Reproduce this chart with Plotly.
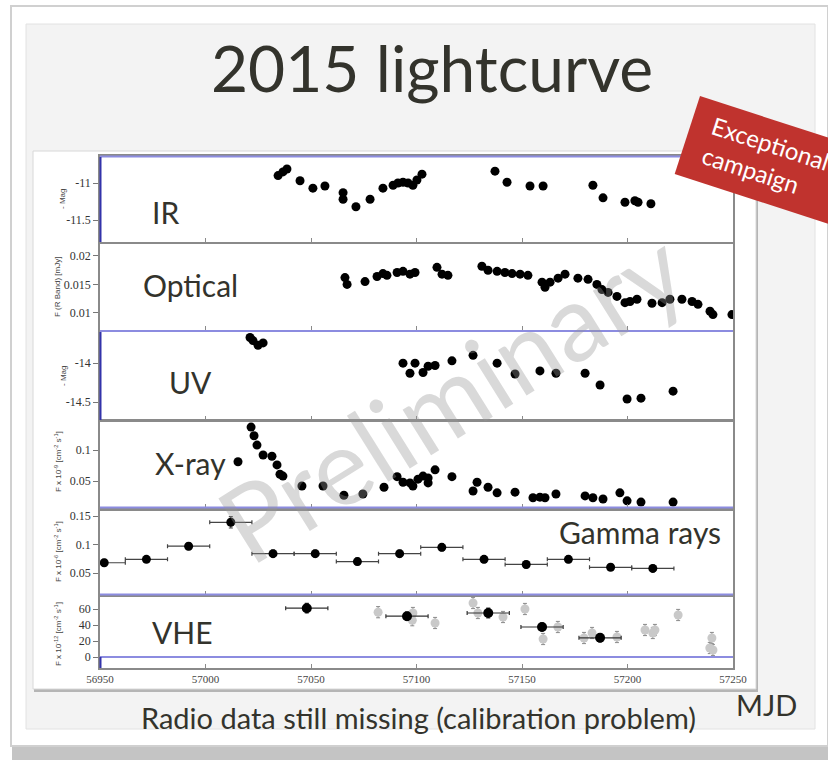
import plotly.graph_objects as go
import math

# ---------------- data ----------------
ir_mjd = [57034.4, 57036.7, 57038.6, 57044.8, 57050.9, 57056.6, 57065.2, 57065.2, 57071.3, 57078.0,
          57084.1, 57088.9, 57091.2, 57093.6, 57096.0, 57098.3, 57100.2, 57102.6, 57137.2, 57142.9,
          57153.8, 57160.0, 57183.6, 57188.4, 57198.8, 57203.5, 57205.0, 57211.1]
ir_mag = [-10.90, -10.85, -10.81, -10.97, -11.07, -11.04, -11.13, -11.22, -11.32, -11.22,
          -11.07, -11.03, -11.00, -10.99, -11.00, -11.03, -10.96, -10.88, -10.84, -10.99,
          -11.04, -11.04, -11.03, -11.20, -11.26, -11.24, -11.26, -11.28]

opt_mjd = [57066.1, 57067.1, 57075.6, 57081.3, 57084.1, 57086.0, 57090.8, 57093.6, 57096.9, 57099.3,
           57109.7, 57112.1, 57114.9, 57131.0, 57133.9, 57138.2, 57141.9, 57145.3, 57149.1, 57152.8,
           57159.5, 57160.9, 57163.3, 57167.1, 57170.4, 57176.5, 57181.3, 57185.5, 57187.9, 57190.8,
           57195.0, 57198.8, 57201.2, 57204.5, 57211.6, 57216.4, 57220.1, 57225.8, 57230.6, 57233.4,
           57239.1, 57240.5, 57249.5]
opt_flux = [0.0162, 0.0150, 0.0155, 0.0164, 0.0169, 0.0166, 0.0171, 0.0173, 0.0168, 0.0171,
            0.0180, 0.0168, 0.0166, 0.0182, 0.0175, 0.0173, 0.0171, 0.0169, 0.0168, 0.0166,
            0.0154, 0.0145, 0.0154, 0.0161, 0.0168, 0.0161, 0.0159, 0.0150, 0.0141, 0.0136,
            0.0129, 0.0118, 0.0120, 0.0124, 0.0117, 0.0118, 0.0124, 0.0124, 0.0120, 0.0115,
            0.0103, 0.0097, 0.0097]

uv_mjd = [57021.1, 57022.5, 57024.9, 57027.3, 57093.6, 57096.9, 57099.3, 57103.1, 57105.5, 57108.8,
          57116.8, 57126.8, 57138.2, 57146.7, 57158.5, 57166.1, 57179.9, 57187.0, 57199.8, 57206.4,
          57221.6]
uv_mag = [-13.67, -13.71, -13.77, -13.74, -14.00, -14.13, -14.00, -14.12, -14.04, -14.03,
          -13.97, -13.90, -14.00, -14.14, -14.10, -14.13, -14.13, -14.28, -14.46, -14.45,
          -14.36]

xray_mjd = [57015.4, 57021.6, 57023.0, 57024.4, 57027.3, 57031.5, 57033.9, 57035.3, 57036.7, 57045.7,
            57055.7, 57065.6, 57074.6, 57084.6, 57090.8, 57093.6, 57096.9, 57098.3, 57100.7, 57103.1,
            57105.5, 57105.5, 57108.8, 57116.8, 57126.8, 57128.7, 57133.9, 57138.2, 57146.7, 57155.2,
            57158.5, 57160.9, 57166.1, 57179.9, 57183.6, 57188.4, 57196.4, 57199.8, 57206.4, 57221.6]
xray_flux = [0.081, 0.137, 0.123, 0.108, 0.092, 0.090, 0.076, 0.061, 0.058, 0.042,
             0.042, 0.027, 0.029, 0.040, 0.057, 0.048, 0.047, 0.042, 0.053, 0.058,
             0.055, 0.047, 0.068, 0.057, 0.034, 0.048, 0.040, 0.031, 0.032, 0.023,
             0.024, 0.023, 0.029, 0.026, 0.023, 0.021, 0.031, 0.018, 0.016, 0.016]

gamma_mjd = [56952, 56972, 56992, 57012, 57032, 57052, 57072, 57092, 57112, 57132, 57152, 57172, 57192, 57212]
gamma_flux = [0.068, 0.074, 0.097, 0.139, 0.084, 0.084, 0.070, 0.084, 0.095, 0.074, 0.065, 0.074, 0.060, 0.058]
gamma_ferr = [0.006, 0.005, 0.006, 0.010, 0.006, 0.006, 0.006, 0.006, 0.006, 0.006, 0.006, 0.006, 0.005, 0.006]
gamma_bin = 10

vhe_mjd = [57048.0, 57095.5, 57134.0, 57159.5, 57187.0]
vhe_flux = [61, 51, 55, 37.5, 24]
vhe_err = [6, 5, 6, 5, 5]
vhe_bin = 10

vhe_night_mjd = [57081.8, 57098.3, 57098.0, 57108.8, 57126.8, 57129.1, 57141.0, 57151.4, 57160.0, 57167.0,
                 57179.4, 57183.2, 57195.0, 57208.3, 57212.0, 57213.0, 57224.0, 57240.0, 57239.0, 57240.5]
vhe_night_flux = [56, 55, 46, 42.5, 67.5, 55, 50, 60, 22.5, 37.5,
                  23.75, 30, 25, 33.75, 30, 33.75, 52.5, 23.75, 11.25, 8.75]
vhe_night_err = [7] * 20

x_ticks = [56950, 57000, 57050, 57100, 57150, 57200, 57250]

W, H = 828, 763
def PX(x): return x / W
def PY(y): return 1 - y / H

# panel pixel boxes (top, bottom)
panels = [(156, 242), (244, 330), (332, 420), (421, 508), (511, 595), (597, 668)]
XL, XR = 100, 733

fig = go.Figure()
mk = dict(color="black", size=9)

def add(x, y, idx, **kw):
    ax = "" if idx == 1 else str(idx)
    fig.add_trace(go.Scatter(x=x, y=y, mode="markers", xaxis="x" + ax, yaxis="y" + ax,
                             showlegend=False, hoverinfo="skip", **kw))

add(ir_mjd, ir_mag, 1, marker=mk,
    error_y=dict(type="constant", value=0.03, color="black", thickness=1.5, width=0))
add(opt_mjd, opt_flux, 2, marker=mk)
add(uv_mjd, uv_mag, 3, marker=mk)
add(xray_mjd, xray_flux, 4, marker=mk)
add(gamma_mjd, gamma_flux, 5, marker=mk,
    error_x=dict(type="constant", value=gamma_bin, color="#444", thickness=1.2, width=2),
    error_y=dict(type="data", array=gamma_ferr, color="#444", thickness=1.2, width=2))
add(vhe_night_mjd, vhe_night_flux, 6, marker=dict(color="#c9c9c9", size=9),
    error_y=dict(type="data", array=vhe_night_err, color="#8a8a8a", thickness=1, width=2))
add(vhe_mjd, vhe_flux, 6, marker=dict(color="black", size=10),
    error_x=dict(type="constant", value=vhe_bin, color="#333", thickness=1.2, width=2),
    error_y=dict(type="data", array=vhe_err, color="#333", thickness=1.2, width=2))

yranges = [[-11.797, -10.635], [0.0070, 0.0221], [-14.73, -13.60], [0.0065, 0.1468], [0.0114, 0.1588], [-13.75, 75]]
yticks = [[-11, -11.5], [0.01, 0.015, 0.02], [-14, -14.5], [0.05, 0.1], [0.05, 0.1, 0.15], [0, 20, 40, 60]]
ytext = [["-11", "-11.5"], ["0.01", "0.015", "0.02"], ["-14", "-14.5"], ["0.05", "0.1"],
         ["0.05", "0.1", "0.15"], ["0", "20", "40", "60"]]

tickfont = dict(family="Liberation Serif", size=12, color="#333")
for i, (t, b) in enumerate(panels):
    n = i + 1
    sfx = "" if n == 1 else str(n)
    fig.layout["xaxis" + sfx] = dict(
        domain=[PX(XL), PX(XR)], range=[56950, 57250], anchor="y" + sfx, automargin=False,
        showline=True, mirror=True, linecolor="#8a8a8a", linewidth=1.5,
        showgrid=False, zeroline=False, ticks="inside", ticklen=4, tickcolor="#8a8a8a",
        tickvals=x_ticks, ticktext=[str(v) for v in x_ticks],
        showticklabels=(n == 6), tickfont=dict(family="Liberation Serif", size=11, color="#444"),
        **({} if n == 1 else {"matches": "x"}))
    fig.layout["yaxis" + sfx] = dict(
        domain=[PY(b), PY(t)], range=yranges[i], anchor="x" + sfx, automargin=False,
        showline=True, mirror=True, linecolor="#8a8a8a", linewidth=1.5,
        showgrid=False, zeroline=False, ticks="outside", ticklen=5, tickcolor="#777",
        tickvals=yticks[i], ticktext=ytext[i], tickfont=tickfont)

shapes = []
# slide background / frames
shapes.append(dict(type="rect", xref="paper", yref="paper", x0=PX(12), x1=PX(828), y0=PY(760), y1=PY(745),
                   fillcolor="#c4c4c4", line=dict(width=0), layer="below"))
shapes.append(dict(type="rect", xref="paper", yref="paper", x0=PX(11), x1=PX(828), y0=PY(746), y1=PY(6),
                   fillcolor="#ffffff", line=dict(color="#d0d0d0", width=2), layer="below"))
shapes.append(dict(type="rect", xref="paper", yref="paper", x0=PX(26), x1=PX(815), y0=PY(729), y1=PY(24),
                   fillcolor="#f3f3f3", line=dict(color="#e2e2e2", width=1), layer="below"))
shapes.append(dict(type="rect", xref="paper", yref="paper", x0=PX(34), x1=PX(758), y0=PY(692), y1=PY(152),
                   fillcolor="#b5b5b5", line=dict(width=0), layer="below"))
shapes.append(dict(type="rect", xref="paper", yref="paper", x0=PX(33), x1=PX(756), y0=PY(689), y1=PY(151),
                   fillcolor="#ffffff", line=dict(color="#d8d8d8", width=1), layer="below"))

blue = "#8c8ce0"
dblue = "#3333aa"
def hline(py, x0=XL, x1=XR, color=blue, w=2):
    shapes.append(dict(type="line", xref="paper", yref="paper", x0=PX(x0), x1=PX(x1), y0=PY(py), y1=PY(py),
                       line=dict(color=color, width=w), layer="above"))
def vline(px, y0, y1, color=dblue, w=2):
    shapes.append(dict(type="line", xref="paper", yref="paper", x0=PX(px), x1=PX(px), y0=PY(y0), y1=PY(y1),
                       line=dict(color=color, width=w), layer="above"))
hline(156.5)
vline(100.5, 157, 242)
hline(331)
vline(100.5, 332, 420)
hline(507.5)
hline(594.5)
hline(657)
vline(100.5, 657, 668)

# red banner
ang = math.radians(18)
ux, uy = math.cos(ang), math.sin(ang)
A = (700, 96)
B = (A[0] - 82 * uy, A[1] + 82 * ux)
C = (B[0] + 220 * ux, B[1] + 220 * uy)
D = (A[0] + 220 * ux, A[1] + 220 * uy)
path = "M {} {} L {} {} L {} {} L {} {} Z".format(PX(A[0]), PY(A[1]), PX(B[0]), PY(B[1]),
                                                  PX(C[0]), PY(C[1]), PX(D[0]), PY(D[1]))
shapes.append(dict(type="path", xref="paper", yref="paper", path=path,
                   fillcolor="#c0332e", line=dict(width=0), layer="above"))

ann = []
def txt(s, x, y, size, color="#33332c", family="Lato", angle=0, xanchor="center", **kw):
    ann.append(dict(text=s, x=PX(x), y=PY(y), xref="paper", yref="paper", showarrow=False,
                    xanchor=xanchor, yanchor="middle", textangle=angle,
                    font=dict(family=family, size=size, color=color), **kw))

txt("2015 lightcurve", 432, 68, 64)
txt("IR", 165, 212, 30)
txt("Optical", 190, 285, 30)
txt("UV", 190, 382, 30)
txt("X-ray", 190, 463, 30)
txt("Gamma rays", 640, 532, 30)
txt("VHE", 182, 632, 30)
txt("Radio data still missing (calibration problem)", 418, 717, 29)
txt("MJD", 766, 704, 29)

yt_font = "Liberation Sans"
txt("- Mag", 63, 199, 8, color="#444", family=yt_font, angle=-90)
txt("F (R Band) [mJy]", 57, 287, 8, color="#444", family=yt_font, angle=-90)
txt("- Mag", 63, 376, 8, color="#444", family=yt_font, angle=-90)
txt("F x 10<sup>-9</sup> [cm<sup>-2</sup> s<sup>-1</sup>]", 58, 462, 8, color="#444", family=yt_font, angle=-90)
txt("F x 10<sup>-6</sup> [cm<sup>-2</sup> s<sup>-1</sup>]", 58, 552, 8, color="#444", family=yt_font, angle=-90)
txt("F x 10<sup>-12</sup> [cm<sup>-2</sup> s<sup>-1</sup>]", 58, 634, 8, color="#444", family=yt_font, angle=-90)

# watermark
txt("Preliminary", 450, 395, 106, color="rgba(150,150,150,0.36)", angle=-32)

# banner text
txt("Exceptional<br>campaign", 766, 158, 24, color="white", angle=18, align="left")

fig.update_layout(width=W, height=H, margin=dict(l=0, r=0, t=0, b=0, autoexpand=False),
                  paper_bgcolor="white", plot_bgcolor="rgba(0,0,0,0)",
                  shapes=shapes, annotations=ann, showlegend=False)

fig.write_html("out.html", config={"displayModeBar": False},
               post_script="document.body.style.margin='0';document.body.style.overflow='hidden';")
